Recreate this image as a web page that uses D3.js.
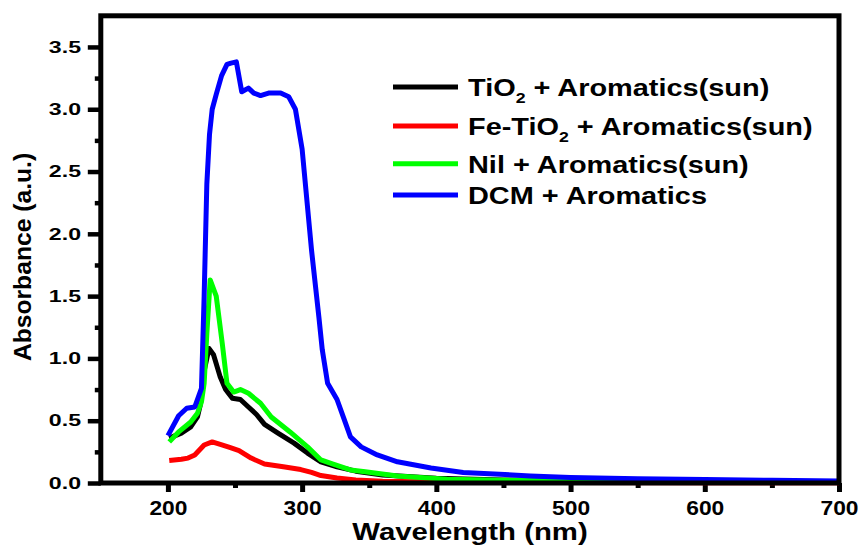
<!DOCTYPE html>
<html>
<head>
<meta charset="utf-8">
<script src="https://cdn.jsdelivr.net/npm/d3@7"></script>
<style>
  body { margin: 0; background: #fff; }
  text { font-family: "Liberation Sans", Arial, sans-serif; font-weight: bold; fill: #000; }
</style>
</head>
<body>
<script>
// data
var wlTiO2  = [201, 210, 217, 222, 224, 227, 230.6, 234, 239, 243, 248, 254, 260, 266, 272, 282, 294, 304, 314, 326, 340, 360, 400, 450, 500, 600, 700];
var absTiO2 = [0.36, 0.40, 0.45, 0.53, 0.62, 0.90, 1.08, 1.03, 0.85, 0.75, 0.68, 0.67, 0.61, 0.55, 0.47, 0.40, 0.32, 0.24, 0.17, 0.13, 0.095, 0.065, 0.038, 0.025, 0.018, 0.011, 0.007];

var wlFe  = [201, 210, 215, 220, 227, 233, 239, 246, 253, 262, 272, 286, 299, 307, 314, 326, 340, 360, 400, 500, 600, 700];
var absFe = [0.18, 0.19, 0.20, 0.225, 0.305, 0.33, 0.31, 0.285, 0.26, 0.20, 0.152, 0.13, 0.108, 0.085, 0.06, 0.04, 0.025, 0.015, 0.008, 0.004, 0.003, 0.002];

var wlNil  = [201, 208, 217, 222, 225, 227, 229, 231.5, 236, 240.5, 244, 249, 254, 260, 269, 277, 291, 304, 314, 322, 336, 347, 371, 408, 450, 500, 600, 700];
var absNil = [0.33, 0.41, 0.49, 0.56, 0.65, 0.80, 1.2, 1.63, 1.50, 1.12, 0.80, 0.73, 0.75, 0.72, 0.64, 0.53, 0.41, 0.29, 0.185, 0.155, 0.105, 0.09, 0.056, 0.03, 0.022, 0.016, 0.01, 0.007];

var wlDCM  = [200, 208, 214, 220, 225, 227, 229, 231, 233, 236, 240, 244, 247, 251, 255, 260, 264, 269, 275, 284, 290, 295, 300, 307, 312.5, 315, 319, 326, 331, 336, 344, 356, 371, 396, 420, 470, 500, 550, 600, 650, 700];
var absDCM = [0.38, 0.54, 0.60, 0.61, 0.76, 1.5, 2.4, 2.8, 3.0, 3.12, 3.27, 3.36, 3.37, 3.38, 3.14, 3.17, 3.13, 3.11, 3.13, 3.13, 3.10, 3.00, 2.68, 1.87, 1.33, 1.07, 0.80, 0.67, 0.52, 0.37, 0.29, 0.225, 0.17, 0.12, 0.085, 0.057, 0.045, 0.035, 0.028, 0.022, 0.017];

var seriesNames  = ["TiO₂ + Aromatics(sun)", "Fe-TiO₂ + Aromatics(sun)", "Nil + Aromatics(sun)", "DCM + Aromatics"];
var seriesColors = ["#000000", "#ff0000", "#00ff00", "#0000ff"];

var xMajor = [200, 300, 400, 500, 600, 700];
var xMinor = [250, 350, 450, 550, 650];
var yMajor = [0, 0.5, 1.0, 1.5, 2.0, 2.5, 3.0, 3.5];
var yMinor = [0.25, 0.75, 1.25, 1.75, 2.25, 2.75, 3.25];

var series = [
    {x: wlTiO2, y: absTiO2},
    {x: wlFe, y: absFe},
    {x: wlNil, y: absNil},
    {x: wlDCM, y: absDCM}
];

var svg = d3.select("body").append("svg")
    .attr("width", 861)
    .attr("height", 545);

var pLeft = 100.8, pRight = 839, pTop = 15.8, pBottom = 483;

var x = d3.scaleLinear().domain([150, 700]).range([pLeft, pRight]);
var y = d3.scaleLinear().domain([0, 3.75]).range([pBottom, pTop]);

// y axis
var yAx = svg.append("g")
    .attr("transform", "translate(" + pLeft + ",0)")
    .call(d3.axisLeft(y).tickValues(yMajor).tickSize(13).tickSizeOuter(0).tickFormat(d3.format(".1f")));
yAx.select(".domain").remove();
yAx.selectAll("line").attr("stroke", "#000").attr("stroke-width", 4.5);
yAx.selectAll("text")
    .attr("font-size", 16.3)
    .attr("x", -19.8 / 1.42)
    .attr("transform", "scale(1.42,1)");

var yMin = svg.append("g")
    .attr("transform", "translate(" + pLeft + ",0)")
    .call(d3.axisLeft(y).tickValues(yMinor).tickSize(6).tickSizeOuter(0).tickFormat(""));
yMin.select(".domain").remove();
yMin.selectAll("line").attr("stroke", "#000").attr("stroke-width", 4.5);

// x axis
var xAx = svg.append("g")
    .attr("transform", "translate(0," + pBottom + ")")
    .call(d3.axisBottom(x).tickValues(xMajor).tickSize(9).tickSizeOuter(0));
xAx.select(".domain").remove();
xAx.selectAll("line").attr("stroke", "#000").attr("stroke-width", 5);
xAx.selectAll("text")
    .attr("font-size", 20)
    .attr("y", 32)
    .attr("dy", 0)
    .attr("transform", "scale(1.14,1)");

var xMin = svg.append("g")
    .attr("transform", "translate(0," + pBottom + ")")
    .call(d3.axisBottom(x).tickValues(xMinor).tickSize(5).tickSizeOuter(0).tickFormat(""));
xMin.select(".domain").remove();
xMin.selectAll("line").attr("stroke", "#000").attr("stroke-width", 5);

// lines
var line = d3.line()
    .x(function (d) { return x(d[0]); })
    .y(function (d) { return y(d[1]); });

svg.append("g")
    .selectAll("path")
    .data(series)
    .join("path")
    .attr("fill", "none")
    .attr("stroke", function (d, i) { return seriesColors[i]; })
    .attr("stroke-width", 5)
    .attr("stroke-linejoin", "round")
    .attr("d", function (d) { return line(d.x.map(function (v, j) { return [v, d.y[j]]; })); });

// frame
svg.append("rect")
    .attr("x", pLeft)
    .attr("y", pTop)
    .attr("width", pRight - pLeft)
    .attr("height", pBottom - pTop)
    .attr("fill", "none")
    .attr("stroke", "#000")
    .attr("stroke-width", 5);

// axis titles
svg.append("text")
    .attr("transform", "translate(31,257) rotate(-90) scale(1.05,1)")
    .attr("text-anchor", "middle")
    .attr("font-size", 23.5)
    .text("Absorbance (a.u.)");

svg.append("text")
    .attr("transform", "translate(470,540) scale(1.25,1)")
    .attr("text-anchor", "middle")
    .attr("font-size", 23.5)
    .text("Wavelength (nm)");

// legend
var legBase = [96, 135, 172.7, 204];
var leg = svg.append("g")
    .selectAll("g")
    .data(seriesNames)
    .join("g");

leg.append("line")
    .attr("x1", 393).attr("x2", 458)
    .attr("y1", function (d, i) { return legBase[i] - 9; })
    .attr("y2", function (d, i) { return legBase[i] - 9; })
    .attr("stroke", function (d, i) { return seriesColors[i]; })
    .attr("stroke-width", 5);

leg.append("text")
    .attr("transform", function (d, i) { return "translate(468," + legBase[i] + ") scale(1.18,1)"; })
    .attr("font-size", 24.5)
    .each(function (d) {
        var t = d3.select(this);
        var parts = d.split("₂");
        parts.forEach(function (p, k) {
            t.append("tspan").text(p).attr("dy", k > 0 ? -7 : 0);
            if (k < parts.length - 1) {
                t.append("tspan").text("2").attr("font-size", 15).attr("dy", 7);
            }
        });
    });
</script>
</body>
</html>
